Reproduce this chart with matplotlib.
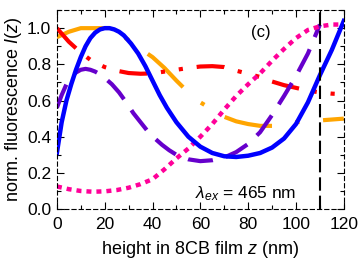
import matplotlib
matplotlib.use("Agg")
import matplotlib.pyplot as plt
from matplotlib.ticker import MultipleLocator

plt.rcParams["font.family"] = ["Liberation Sans", "DejaVu Sans"]
plt.rcParams["mathtext.fontset"] = "custom"
plt.rcParams["mathtext.rm"] = "Liberation Sans"
plt.rcParams["mathtext.it"] = "Liberation Sans:italic"
plt.rcParams["lines.scale_dashes"] = False

# curves (z in nm, normalised intensity)
blue_z = [0, 2, 4, 6, 8, 10, 12, 14, 16, 18, 20, 22, 24, 26, 28, 31, 34, 37, 40, 43,
          46, 50, 55, 60, 65, 70, 75, 80, 85, 90, 95, 100, 105, 110, 115, 120]
blue_i = [0.31, 0.48, 0.60, 0.69, 0.77, 0.84, 0.90, 0.945, 0.975, 0.993, 1.0, 1.0,
          0.993, 0.98, 0.96, 0.915, 0.86, 0.79, 0.71, 0.63, 0.56, 0.48, 0.40, 0.345,
          0.31, 0.292, 0.288, 0.295, 0.31, 0.34, 0.39, 0.47, 0.59, 0.74, 0.88, 1.04]

orange_z = [0, 5, 10, 15, 20, 25, 30, 35, 40, 45, 50, 55, 60, 65, 70, 75, 80, 85,
            90, 95, 100, 105, 110, 115, 120]
orange_i = [0.95, 0.98, 1.0, 1.0, 1.0, 0.975, 0.935, 0.885, 0.84, 0.78, 0.71, 0.645,
            0.59, 0.55, 0.51, 0.485, 0.47, 0.46, 0.46, 0.47, 0.48, 0.485, 0.49, 0.495, 0.50]

red_z = [0, 5, 10, 15, 20, 25, 30, 35, 40, 45, 50, 55, 60, 65, 70, 75, 80, 85,
         90, 95, 100, 105, 110, 115, 120]
red_i = [1.0, 0.925, 0.865, 0.815, 0.785, 0.765, 0.752, 0.748, 0.75, 0.76, 0.77, 0.78,
         0.788, 0.79, 0.785, 0.765, 0.748, 0.73, 0.705, 0.685, 0.67, 0.655, 0.645, 0.638, 0.635]

purple_z = [0, 2, 4, 6, 8, 10, 12, 14, 16, 18, 20, 23, 26, 29, 32, 35, 38, 41, 44,
            47, 50, 55, 60, 65, 70, 75, 80, 85, 90, 95, 100, 105, 110]
purple_i = [0.56, 0.63, 0.69, 0.73, 0.755, 0.77, 0.775, 0.77, 0.76, 0.745, 0.725, 0.69,
            0.645, 0.59, 0.53, 0.48, 0.43, 0.39, 0.355, 0.325, 0.30, 0.275, 0.265, 0.27,
            0.285, 0.315, 0.36, 0.425, 0.52, 0.625, 0.735, 0.86, 1.02]

pink_z = [0, 5, 10, 15, 20, 25, 30, 35, 40, 45, 50, 55, 60, 65, 70, 75, 80, 85,
          90, 95, 100, 105, 110, 115, 120]
pink_i = [0.125, 0.11, 0.10, 0.096, 0.098, 0.105, 0.118, 0.138, 0.165, 0.22, 0.28,
          0.335, 0.40, 0.47, 0.55, 0.625, 0.69, 0.75, 0.82, 0.885, 0.945, 0.99, 1.01,
          1.02, 1.02]

z_mark = 110

fig = plt.figure(figsize=(3.6, 2.65), dpi=100)
ax = fig.add_axes([0.158, 0.211, 0.797, 0.751])

kw = dict(solid_joinstyle="round", dash_joinstyle="round")
ax.plot(orange_z, orange_i, color="#ffa500", lw=3.0, dashes=(35, 17, 3, 17), **kw)
ax.plot(red_z, red_i, color="#ff0000", lw=3.0, dashes=(20, 10, 3, 10, 3, 10), **kw)
ax.plot(purple_z, purple_i, color="#6600cc", lw=3.0, dashes=(18, 9.5), **kw)
ax.plot(pink_z, pink_i, color="#ff0099", lw=3.2, dashes=(3.6, 3.6), **kw)
ax.plot(blue_z, blue_i, color="#0000ff", lw=3.2, **kw)
ax.axvline(z_mark, color="black", lw=1.5, dashes=(9.6, 3.6))

ax.set_xlim(0, 120)
ax.set_ylim(0, 1.1)
ax.xaxis.set_major_locator(MultipleLocator(20))
ax.xaxis.set_minor_locator(MultipleLocator(10))
ax.yaxis.set_major_locator(MultipleLocator(0.2))
ax.yaxis.set_minor_locator(MultipleLocator(0.1))
ax.yaxis.set_major_formatter(plt.FormatStrFormatter("%.1f"))
ax.tick_params(which="both", direction="in", top=True, right=True, labelsize=12.5,
               width=0.8)
ax.tick_params(axis="x", which="major", pad=6)
ax.tick_params(axis="y", which="major", pad=4)
ax.tick_params(which="major", length=5)
ax.tick_params(which="minor", length=3)
for sp in ax.spines.values():
    sp.set_linestyle((0, (3, 2.2)))
    sp.set_linewidth(0.8)

ax.set_xlabel("height in 8CB film $z$ (nm)", fontsize=13, labelpad=5)
ax.set_ylabel("norm. fluorescence $I(z)$", fontsize=13, labelpad=2)

ax.text(85.3, 0.976, "(c)", fontsize=12, ha="center", va="center")
ax.text(79, 0.087, r"$\lambda_{ex}$ = 465 nm", fontsize=12.5, ha="center", va="center")

fig.savefig("out.png", dpi=100)
